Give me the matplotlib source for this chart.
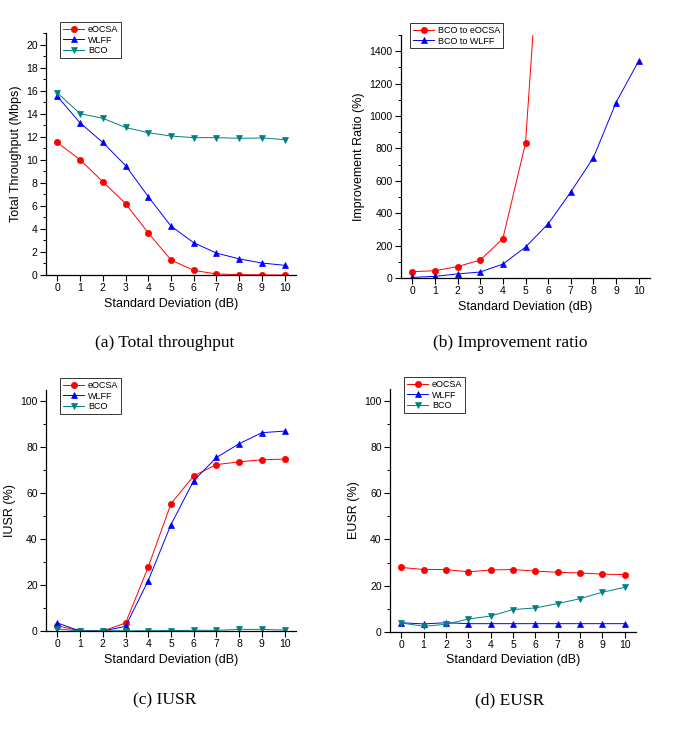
import matplotlib
matplotlib.use("Agg")
import matplotlib.pyplot as plt
from matplotlib.ticker import MultipleLocator, AutoMinorLocator

plt.rcParams['font.family'] = ['Liberation Sans', 'DejaVu Sans']

x = [0, 1, 2, 3, 4, 5, 6, 7, 8, 9, 10]
xticklabels = ['0', '1', '2', '3', '4', '5', '6', '7', '8', '9', '10']

# (a) Total throughput (Mbps)
tp_eocsa = [11.5, 10.0, 8.1, 6.2, 3.65, 1.3, 0.4, 0.09, 0.03, 0.01, 0.0]
tp_wlff = [15.5, 13.2, 11.5, 9.5, 6.8, 4.24, 2.8, 1.9, 1.4, 1.04, 0.84]
tp_bco = [15.8, 14.0, 13.6, 12.8, 12.35, 12.06, 11.92, 11.92, 11.86, 11.89, 11.75]

# (b) Improvement ratio (%)
ir_eocsa = [39, 45, 70, 111, 243, 832, 2880, 13100, 39000, 118000, 200000]
ir_wlff = [4, 10, 25, 37, 86, 191, 334, 531, 743, 1083, 1340]

# (c) IUSR (%)
iusr_eocsa = [2.3, 0.0, 0.0, 3.5, 27.9, 55.5, 67.6, 72.5, 73.7, 74.6, 74.9]
iusr_wlff = [3.5, 0.0, 0.0, 2.0, 22.0, 46.4, 65.5, 75.6, 81.6, 86.4, 87.1]
iusr_bco = [0.9, 0.0, 0.1, 0.1, 0.1, 0.2, 0.3, 0.3, 0.7, 0.7, 0.4]

# (d) EUSR (%)
eusr_eocsa = [27.9, 27.0, 27.0, 26.0, 26.8, 27.0, 26.3, 25.8, 25.5, 25.0, 24.8]
eusr_wlff = [4.0, 3.5, 4.0, 3.6, 3.6, 3.6, 3.6, 3.6, 3.6, 3.6, 3.6]
eusr_bco = [3.9, 2.5, 3.3, 5.6, 6.9, 9.7, 10.4, 12.3, 14.4, 17.2, 19.3]

captions = ['(a) Total throughput', '(b) Improvement ratio', '(c) IUSR', '(d) EUSR']

RED = '#ff0000'
BLUE = '#0000ff'
TEAL = '#008080'

W, H = 685, 736
fig = plt.figure(figsize=(W / 100, H / 100), dpi=100)

def ax_at(l, r, b, t):
    return fig.add_axes([l / W, 1 - b / H, (r - l) / W, (b - t) / H])

def style(ax, ylim, ymajor, ylabel):
    for s in ['top', 'right']:
        ax.spines[s].set_visible(False)
    for s in ['left', 'bottom']:
        ax.spines[s].set_linewidth(0.9)
    ax.set_xlim(-0.5, 10.5)
    ax.set_ylim(*ylim)
    ax.set_xticks(x)
    ax.set_xticklabels(xticklabels)
    ax.yaxis.set_major_locator(MultipleLocator(ymajor))
    ax.yaxis.set_minor_locator(AutoMinorLocator(2))
    ax.tick_params(axis='both', which='major', direction='out', length=4, width=0.8,
                   labelsize=7.5, pad=2)
    ax.tick_params(axis='y', which='minor', direction='out', length=2, width=0.7)
    ax.set_xlabel('Standard Deviation (dB)', fontsize=9, labelpad=3)
    ax.set_ylabel(ylabel, fontsize=9, labelpad=3)

def series(ax, y, color, marker, label):
    ax.plot(x, y, color=color, marker=marker, markersize=4.5, linewidth=0.7,
            markeredgewidth=0.5, label=label)

def legend(ax, l, t):
    lg = ax.legend(loc='upper left', bbox_to_anchor=(l / W, 1 - t / H),
                   bbox_transform=fig.transFigure, fontsize=6.5, frameon=True, fancybox=False,
                   handlelength=2.4, handletextpad=0.4, borderpad=0.3, labelspacing=0.2,
                   borderaxespad=0)
    lg.get_frame().set_edgecolor('black')
    lg.get_frame().set_linewidth(0.7)

# (a)
ax = ax_at(46, 296, 275, 33)
series(ax, tp_eocsa, RED, 'o', 'eOCSA')
series(ax, tp_wlff, BLUE, '^', 'WLFF')
series(ax, tp_bco, TEAL, 'v', 'BCO')
style(ax, (0, 21), 2, 'Total Throughput (Mbps)')
legend(ax, 60, 22)

# (b)
ax = ax_at(401, 650, 278, 35)
series(ax, ir_eocsa, RED, 'o', 'BCO to eOCSA')
series(ax, ir_wlff, BLUE, '^', 'BCO to WLFF')
style(ax, (0, 1500), 200, 'Improvement Ratio (%)')
legend(ax, 410, 23)

# (c)
ax = ax_at(46, 296, 631, 390)
series(ax, iusr_eocsa, RED, 'o', 'eOCSA')
series(ax, iusr_wlff, BLUE, '^', 'WLFF')
series(ax, iusr_bco, TEAL, 'v', 'BCO')
style(ax, (0, 105), 20, 'IUSR (%)')
legend(ax, 60, 378)

# (d)
ax = ax_at(390, 636, 632, 389)
series(ax, eusr_eocsa, RED, 'o', 'eOCSA')
series(ax, eusr_wlff, BLUE, '^', 'WLFF')
series(ax, eusr_bco, TEAL, 'v', 'BCO')
style(ax, (0, 105), 20, 'EUSR (%)')
legend(ax, 404, 377)

cap_pos = [(165, 343), (510, 343), (165, 700), (510, 700)]
for (cx, cy), txt in zip(cap_pos, captions):
    fig.text(cx / W, 1 - cy / H, txt, ha='center', va='center', fontsize=12.5,
             family=['Liberation Serif', 'DejaVu Serif'])

fig.savefig('out.png', dpi=100)
